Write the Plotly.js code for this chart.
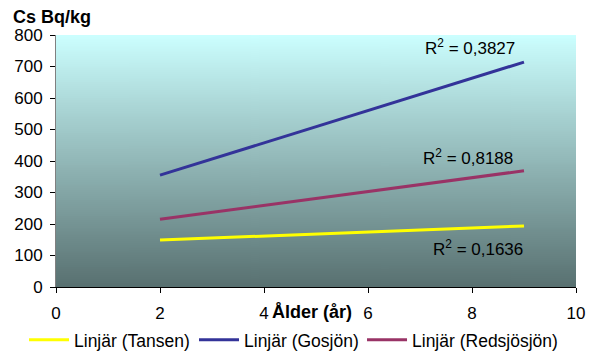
<!DOCTYPE html>
<html>
<head>
<meta charset="utf-8">
<script src="https://cdn.plot.ly/plotly-3.0.1.min.js"></script>
<style>html,body{margin:0;padding:0;background:#fff;}#chart{width:591px;height:352px;}</style>
</head>
<body>
<div id="chart"></div>
<script>
// Data (trend-line end points)
const xAge = [2, 9];
const tansen = [149, 194];
const gosjon = [355, 714];
const redsjosjon = [215, 369];
const seriesNames = ["Linjär (Tansen)", "Linjär (Gosjön)", "Linjär (Redsjösjön)"];
const r2Labels = ["R<sup>2</sup> = 0,1636", "R<sup>2</sup> = 0,3827", "R<sup>2</sup> = 0,8188"];
const r2Pos = [[8.12, 124], [7.96, 762], [7.92, 412]];
const xTicks = [0, 2, 4, 6, 8, 10];
const yTicks = [0, 100, 200, 300, 400, 500, 600, 700, 800];

// gradient background for the plot area
const cv = document.createElement('canvas');
cv.width = 4; cv.height = 256;
const cx = cv.getContext('2d');
const g = cx.createLinearGradient(0, 0, 0, 256);
g.addColorStop(0, 'rgb(204,255,255)');
g.addColorStop(1, 'rgb(88,112,112)');
cx.fillStyle = g; cx.fillRect(0, 0, 4, 256);
const bg = cv.toDataURL('image/png');

const F = "Liberation Sans, Arial, sans-serif";
const colors = ['#FFFF00', '#333399', '#993366'];
const legendIds = ['legend', 'legend2', 'legend3'];
const ys = [tansen, gosjon, redsjosjon];
const traces = ys.map((y, i) => ({
  x: xAge, y: y, type: 'scatter', mode: 'lines', name: seriesNames[i], legend: legendIds[i],
  line: {color: colors[i], width: 3}, hoverinfo: 'skip'
}));

const annotations = r2Labels.map((t, i) => ({
  x: r2Pos[i][0], y: r2Pos[i][1], xref: 'x', yref: 'y', text: t, showarrow: false,
  font: {family: F, size: 17, color: '#000'}, xanchor: 'center', yanchor: 'middle'
}));
annotations.push({x: -0.086, y: 1.071, xref: 'paper', yref: 'paper', text: '<b>Cs Bq/kg</b>',
  showarrow: false, xanchor: 'left', yanchor: 'middle', font: {family: F, size: 18, color: '#000'}});
annotations.push({x: 0.492, y: -0.099, xref: 'paper', yref: 'paper', text: '<b>Ålder (år)</b>',
  showarrow: false, xanchor: 'center', yanchor: 'middle', font: {family: F, size: 18, color: '#000'}});

const legendX = [-0.0615, 0.2654, 0.5885];
function mkLegend(x) {
  return {orientation: 'h', x: x, xanchor: 'left', y: -0.21, yanchor: 'middle',
    font: {family: F, size: 17.5}, bgcolor: 'rgba(0,0,0,0)', itemwidth: 40};
}

const layout = {
  width: 591, height: 352,
  margin: {l: 56, r: 15, t: 35, b: 65, pad: 0, autoexpand: false},
  paper_bgcolor: '#fff', plot_bgcolor: 'rgba(0,0,0,0)',
  font: {family: F, size: 17, color: '#000'},
  showlegend: true,
  legend: mkLegend(legendX[0]),
  legend2: mkLegend(legendX[1]),
  legend3: mkLegend(legendX[2]),
  xaxis: {range: [0, 10], tickvals: xTicks, ticktext: xTicks.map(String), ticks: 'outside', ticklen: 5,
    tickcolor: '#000', showline: true, linecolor: '#000', linewidth: 1, showgrid: false, zeroline: false,
    tickfont: {family: F, size: 17}, ticklabelstandoff: 6, fixedrange: true},
  yaxis: {range: [0, 800], tickvals: yTicks, ticktext: yTicks.map(String), ticks: 'outside', ticklen: 5,
    tickcolor: '#000', showline: true, linecolor: '#808080', linewidth: 1, showgrid: false, zeroline: false,
    tickfont: {family: F, size: 17}, ticklabelstandoff: 4, fixedrange: true},
  images: [{source: bg, xref: 'paper', yref: 'paper', x: 0, y: 1, sizex: 1, sizey: 1,
    sizing: 'stretch', layer: 'below', xanchor: 'left', yanchor: 'top'}],
  annotations: annotations
};
Plotly.newPlot('chart', traces, layout, {staticPlot: true, displayModeBar: false});
</script>
</body>
</html>
